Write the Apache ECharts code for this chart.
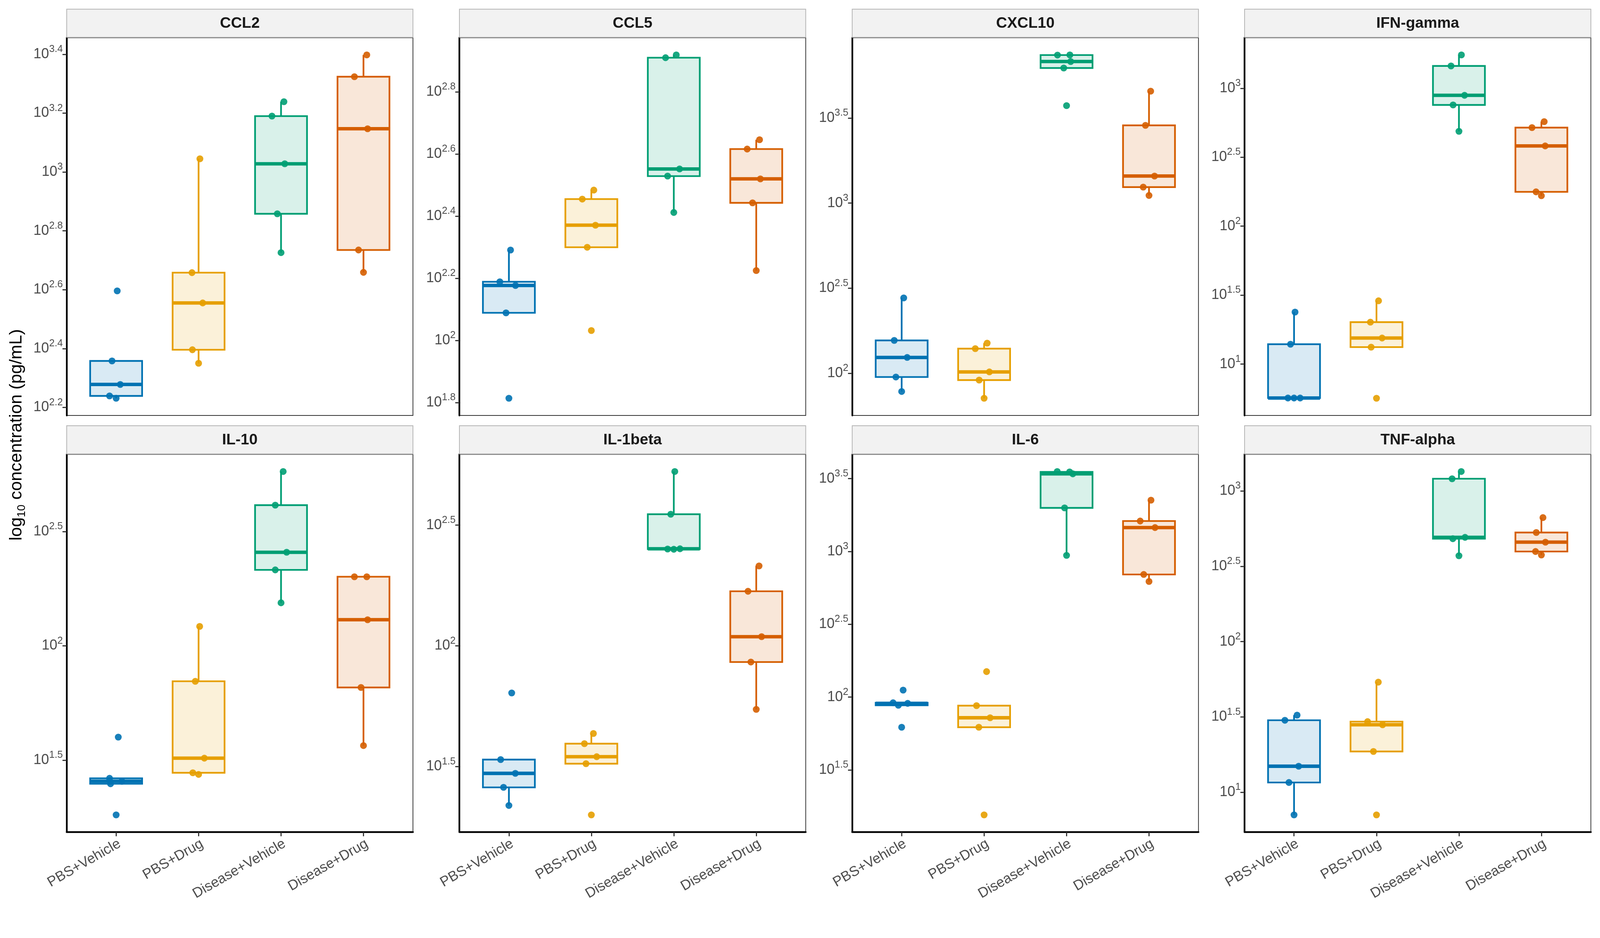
<!DOCTYPE html>
<html>
<head>
<meta charset="utf-8">
<script src="https://cdn.jsdelivr.net/npm/echarts@6/dist/echarts.min.js"></script>
<style>
html,body{margin:0;padding:0;background:#fff;overflow:hidden;}
#chart{width:100vw;height:100vh;}
</style>
</head>
<body>
<div id="chart"></div>
<script>
// ---------------- DATA (log10 concentration, pg/mL) ----------------
const groups = ['PBS+Vehicle', 'PBS+Drug', 'Disease+Vehicle', 'Disease+Drug'];
const cytokines = ['CCL2', 'CCL5', 'CXCL10', 'IFN-gamma', 'IL-10', 'IL-1beta', 'IL-6', 'TNF-alpha'];

const ccl2Values = [[2.596, 2.358, 2.278, 2.239, 2.231], [3.045, 2.658, 2.555, 2.396, 2.350], [3.239, 3.190, 3.028, 2.858, 2.726], [3.398, 3.324, 3.147, 2.735, 2.659]];
const ccl5Values = [[2.291, 2.189, 2.177, 2.089, 1.814], [2.484, 2.455, 2.371, 2.300, 2.032], [2.919, 2.910, 2.552, 2.529, 2.412], [2.646, 2.616, 2.520, 2.443, 2.225]];
const cxcl10Values = [[2.443, 2.193, 2.093, 1.978, 1.893], [2.177, 2.145, 2.008, 1.960, 1.853], [3.871, 3.870, 3.832, 3.794, 3.573], [3.658, 3.457, 3.159, 3.094, 3.045]];
const ifngValues = [[1.377, 1.144, 0.754, 0.754, 0.754], [1.459, 1.304, 1.189, 1.123, 0.752], [3.242, 3.162, 2.949, 2.879, 2.688], [2.758, 2.715, 2.582, 2.249, 2.221]];
const il10Values = [[1.601, 1.421, 1.408, 1.397, 1.261], [2.085, 1.845, 1.509, 1.445, 1.438], [2.762, 2.615, 2.409, 2.332, 2.188], [2.302, 2.302, 2.114, 1.818, 1.564]];
const il1bValues = [[1.805, 1.529, 1.472, 1.414, 1.339], [1.637, 1.595, 1.541, 1.512, 1.300], [2.722, 2.545, 2.402, 2.401, 2.400], [2.331, 2.226, 2.038, 1.933, 1.737]];
const il6Values = [[2.048, 1.961, 1.957, 1.944, 1.793], [2.175, 1.941, 1.858, 1.793, 1.191], [3.549, 3.546, 3.533, 3.299, 2.973], [3.352, 3.209, 3.164, 2.842, 2.794]];
const tnfaValues = [[1.512, 1.478, 1.173, 1.065, 0.850], [1.731, 1.469, 1.448, 1.271, 0.850], [3.129, 3.081, 2.692, 2.683, 2.570], [2.823, 2.724, 2.660, 2.598, 2.575]];

// horizontal jitter of each point (in category units)
const ccl2Jitter = [[0.013, -0.05, 0.05, -0.08, 0], [0.016, -0.08, 0.05, -0.075, 0], [0.035, -0.11, 0.045, -0.045, 0], [0.04, -0.11, 0.05, -0.06, 0]];
const ccl5Jitter = [[0.02, -0.11, 0.08, -0.035, 0], [0.03, -0.11, 0.05, -0.05, 0], [0.03, -0.1, 0.07, -0.075, 0], [0.04, -0.11, 0.05, -0.045, 0]];
const cxcl10Jitter = [[0.025, -0.09, 0.067, -0.07, 0], [0.037, -0.107, 0.064, -0.06, 0], [0.04, -0.11, 0.05, -0.034, 0], [0.02, -0.043, 0.067, -0.07, 0]];
const ifngJitter = [[0.012, -0.043, -0.074, 0, 0.074], [0.025, -0.074, 0.068, -0.065, 0], [0.03, -0.096, 0.068, -0.071, 0], [0.034, -0.114, 0.046, -0.065, 0]];
const il10Jitter = [[0.026, -0.08, 0.07, -0.068, 0], [0.013, -0.04, 0.07, -0.07, 0], [0.026, -0.07, 0.068, -0.07, 0], [0.04, -0.11, 0.05, -0.03, 0]];
const il1bJitter = [[0.034, -0.1, 0.078, -0.065, 0], [0.025, -0.084, 0.065, -0.065, 0], [0.012, -0.037, 0.075, -0.075, 0], [0.034, -0.1, 0.065, -0.065, 0]];
const il6Jitter = [[0.018, -0.104, 0.073, -0.04, 0], [0.03, -0.092, 0.073, -0.064, 0], [-0.113, 0.037, 0.076, -0.024, 0], [0.024, -0.107, 0.073, -0.064, 0]];
const tnfaJitter = [[0.037, -0.111, 0.056, -0.062, 0], [0.022, -0.108, 0.074, -0.037, 0], [0.028, -0.083, 0.074, -0.074, 0], [0.019, -0.062, 0.049, -0.071, 0]];

// y tick positions (exponents of 10)
const ccl2Ticks = [2.2, 2.4, 2.6, 2.8, 3, 3.2, 3.4];
const ccl5Ticks = [1.8, 2, 2.2, 2.4, 2.6, 2.8];
const cxcl10Ticks = [2, 2.5, 3, 3.5];
const ifngTicks = [1, 1.5, 2, 2.5, 3];
const il10Ticks = [1.5, 2, 2.5];
const il1bTicks = [1.5, 2, 2.5];
const il6Ticks = [1.5, 2, 2.5, 3, 3.5];
const tnfaTicks = [1, 1.5, 2, 2.5, 3];
const groupTicks = [0, 1, 2, 3];

// ---------------- STYLE / LAYOUT ----------------
const panelValues = [ccl2Values, ccl5Values, cxcl10Values, ifngValues, il10Values, il1bValues, il6Values, tnfaValues];
const panelJitter = [ccl2Jitter, ccl5Jitter, cxcl10Jitter, ifngJitter, il10Jitter, il1bJitter, il6Jitter, tnfaJitter];
const panelTicks = [ccl2Ticks, ccl5Ticks, cxcl10Ticks, ifngTicks, il10Ticks, il1bTicks, il6Ticks, tnfaTicks];

const lineColors = ['#0072B2', '#E69F00', '#009E73', '#D55E00'];
const fillColors = ['rgba(0,114,178,0.15)', 'rgba(230,159,0,0.15)', 'rgba(0,158,115,0.15)', 'rgba(213,94,0,0.15)'];
const FONT = '"Liberation Sans", Arial, Helvetica, sans-serif';

// design is in 4200x2400 units, scaled to the actual viewport
const VW = window.innerWidth || 4200, VH = window.innerHeight || 2400;
const S = Math.min(VW / 4200, VH / 2400);
const px = v => v * S;

const colLefts = [175, 1206, 2237, 3267];
const rowTops = [99, 1192];
const PW = 909, PH = 991, STRIP = 75;

function q7(s, p) {
  const h = (s.length - 1) * p, lo = Math.floor(h), hi = Math.ceil(h);
  return s[lo] + (h - lo) * (s[hi] - s[lo]);
}
function boxStats(vals) {
  const s = vals.slice().sort((a, b) => a - b);
  const q1 = q7(s, 0.25), md = q7(s, 0.5), q3 = q7(s, 0.75);
  const iqr = q3 - q1;
  const inside = s.filter(v => v >= q1 - 1.5 * iqr && v <= q3 + 1.5 * iqr);
  return [Math.min(...inside), q1, md, q3, Math.max(...inside)];
}
function fmtExp(v) { return String(Number(v.toFixed(2))); }

const grids = [], xAxes = [], yAxes = [], series = [], graphics = [];

cytokines.forEach((name, p) => {
  const col = p % 4, row = Math.floor(p / 4);
  const left = colLefts[col], top = rowTops[row];
  grids.push({ left: px(left), top: px(top), width: px(PW), height: px(PH), show: true, borderColor: '#333333', borderWidth: px(2), backgroundColor: 'transparent', containLabel: false });

  const vals = panelValues[p];
  const all = [].concat(...vals);
  const mn = Math.min(...all), mx = Math.max(...all), rg = mx - mn;

  const bottomRow = row === 1;
  xAxes.push({
    gridIndex: p, type: 'value', min: -0.6, max: 3.6, show: bottomRow,
    axisLine: { show: true, onZero: false, lineStyle: { color: '#000', width: px(4.5) } },
    axisTick: { show: true, length: px(11), lineStyle: { color: '#333', width: px(3) }, customValues: groupTicks },
    axisLabel: {
      show: true, customValues: groupTicks, formatter: v => groups[Math.round(v)],
      rotate: 30, align: 'right', verticalAlign: 'top', margin: px(12),
      fontSize: px(37), color: '#4D4D4D', fontFamily: FONT
    },
    splitLine: { show: false }
  });

  yAxes.push({
    gridIndex: p, type: 'value', min: mn - 0.05 * rg, max: mx + 0.05 * rg,
    axisLine: { show: true, onZero: false, lineStyle: { color: '#000', width: px(4.5) } },
    axisTick: { show: true, length: px(11), lineStyle: { color: '#333', width: px(3) }, customValues: panelTicks[p] },
    axisLabel: {
      show: true, margin: px(10), customValues: panelTicks[p],
      formatter: v => '{b|10}{s|' + fmtExp(v) + '}',
      rich: {
        b: { fontSize: px(37), color: '#4D4D4D', fontFamily: FONT, lineHeight: px(52) },
        s: { fontSize: px(26), color: '#4D4D4D', fontFamily: FONT, lineHeight: px(26), verticalAlign: 'top' }
      }
    },
    splitLine: { show: false }
  });

  const boxData = vals.map((v, g) => [g].concat(boxStats(v)));
  series.push({
    type: 'custom', xAxisIndex: p, yAxisIndex: p, z: 2,
    data: boxData,
    renderItem: function (params, api) {
      const g = api.value(0);
      const lo = api.coord([g, api.value(1)]);
      const q1 = api.coord([g, api.value(2)]);
      const md = api.coord([g, api.value(3)]);
      const q3 = api.coord([g, api.value(4)]);
      const hi = api.coord([g, api.value(5)]);
      const hw = api.size([1, 0])[0] * 0.315;
      const cx = q1[0], c = lineColors[g];
      return {
        type: 'group', children: [
          { type: 'line', shape: { x1: cx, y1: q3[1], x2: cx, y2: hi[1] }, style: { stroke: c, lineWidth: px(4.5) } },
          { type: 'line', shape: { x1: cx, y1: q1[1], x2: cx, y2: lo[1] }, style: { stroke: c, lineWidth: px(4.5) } },
          { type: 'rect', shape: { x: cx - hw, y: q3[1], width: 2 * hw, height: q1[1] - q3[1] }, style: { fill: fillColors[g], stroke: c, lineWidth: px(4.5) } },
          { type: 'line', shape: { x1: cx - hw, y1: md[1], x2: cx + hw, y2: md[1] }, style: { stroke: c, lineWidth: px(9) } }
        ]
      };
    }
  });

  const pts = [];
  vals.forEach((arr, g) => arr.forEach((v, i) => {
    pts.push({ value: [g + panelJitter[p][g][i], v], itemStyle: { color: lineColors[g], opacity: 0.9 } });
  }));
  series.push({
    type: 'scatter', xAxisIndex: p, yAxisIndex: p, z: 3,
    symbol: 'circle', symbolSize: px(18), data: pts, silent: true
  });

  graphics.push({ type: 'rect', shape: { x: px(left), y: px(top - STRIP), width: px(PW), height: px(STRIP - 1) }, style: { fill: '#F2F2F2', stroke: '#B3B3B3', lineWidth: px(2) }, z: 10 });
  graphics.push({ type: 'text', x: px(left + PW / 2), y: px(top - STRIP / 2), style: { text: name, fontSize: px(40), fontWeight: 'bold', fontFamily: FONT, fill: '#1A1A1A', align: 'center', verticalAlign: 'middle' }, z: 11 });
});

graphics.push({
  type: 'text', x: px(44), y: px((rowTops[0] + rowTops[1] + PH) / 2), rotation: Math.PI / 2, z: 11,
  style: {
    text: '{a|log}{s|10}{a| concentration (pg/mL)}', align: 'center', verticalAlign: 'middle',
    rich: {
      a: { fontSize: px(46), fontFamily: FONT, fill: '#000', lineHeight: px(56) },
      s: { fontSize: px(30), fontFamily: FONT, fill: '#000', lineHeight: px(24), verticalAlign: 'bottom' }
    }
  }
});

const chart = echarts.init(document.getElementById('chart'), null, { renderer: 'canvas' });
chart.setOption({
  animation: false,
  backgroundColor: '#ffffff',
  grid: grids, xAxis: xAxes, yAxis: yAxes, series: series,
  graphic: { elements: graphics }
});
</script>
</body>
</html>
